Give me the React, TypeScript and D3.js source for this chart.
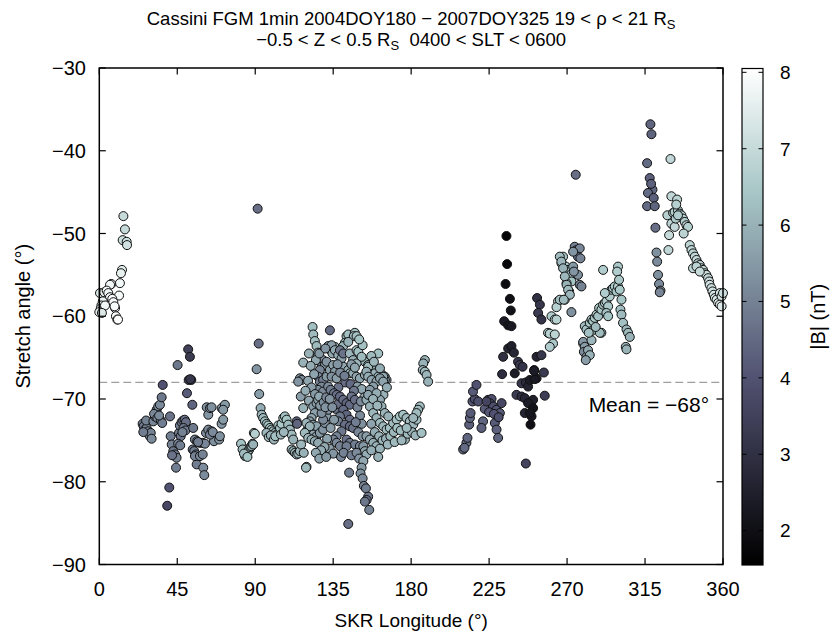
import React from 'react';
import * as d3 from 'd3';

type P = [number, number, number]; // [SKR longitude, stretch angle, |B|]

const segA: P[] = [
  [13.9,-47.9,7.0],[14.8,-49.5,7.0],[13.5,-50.8,7.1],[15.8,-51.0,7.1],[16.0,-51.4,7.2],[13.1,-54.4,7.5],[12.5,-54.8,7.6],
  [11.9,-56.0,7.8],[6.9,-56.1,7.9],[6.2,-56.2,7.8],[11.4,-57.5,7.9],[0.4,-57.2,7.3],[2.9,-57.1,7.6],[4.3,-56.9,7.9],
  [5.2,-57.2,7.8],[6.2,-57.7,7.9],[7.5,-57.9,8.0],[8.1,-58.3,7.9],[2.0,-58.2,7.7],[1.2,-58.7,7.5],[0.8,-59.1,7.4],
  [3.3,-58.7,7.8],[9.1,-59.0,7.9],[9.6,-60.0,8.0],[10.4,-60.4,7.9],[10.8,-60.4,8.0],[8.8,-58.8,7.9],[0.0,-59.5,7.6],[1.5,-59.6,7.4],
];

const segB: P[] = [
  [25.0,-73.0,4.9],[25.6,-73.3,4.8],[26.4,-73.7,4.9],[27.3,-73.5,5.0],[28.3,-73.9,5.0],[29.2,-74.5,5.1],[29.7,-74.1,5.0],
  [30.2,-74.8,5.2],[25.4,-74.0,4.9],[27.0,-72.6,5.0],[31.2,-72.7,5.1],[32.1,-72.1,5.2],[33.1,-71.3,5.2],[34.0,-70.9,5.3],
  [35.0,-70.7,5.2],[31.6,-71.8,5.1],[33.5,-72.3,5.0],[35.5,-72.6,5.1],[36.3,-72.9,4.9],[34.5,-72.0,5.2],[36.0,-69.8,4.8],
  [36.6,-68.3,4.0],[40.8,-72.1,4.7],[41.2,-74.5,4.9],[41.8,-75.5,5.0],[42.7,-76.3,4.8],[43.7,-76.7,4.9],[44.6,-77.1,5.0],
  [44.3,-78.3,4.9],[42.0,-76.8,4.7],[40.4,-80.7,4.0],[39.2,-82.9,3.7],[45.2,-65.9,4.8],[46.0,-74.1,4.9],[46.5,-73.2,5.0],
  [47.5,-72.8,4.8],[48.4,-72.6,4.9],[49.3,-72.5,4.7],[50.0,-72.8,4.6],[48.6,-73.5,4.8],[47.0,-74.5,4.7],[49.7,-73.8,4.9],
  [45.5,-75.4,5.0],[46.7,-75.6,4.9],[48.0,-74.0,5.0],[51.3,-64.0,3.5],[52.3,-64.9,3.3],[51.6,-67.7,3.5],[53.1,-67.7,3.6],
  [52.5,-67.6,3.2],[50.6,-69.3,4.2],[53.7,-70.7,4.4],[54.2,-73.5,4.8],[53.9,-76.1,4.8],[54.8,-76.3,4.9],[55.8,-76.7,4.9],
  [56.2,-77.9,4.9],[55.2,-76.9,5.0],[55.2,-74.9,5.0],[56.5,-75.1,5.0],[58.1,-75.3,5.1],[59.7,-75.3,5.0],[61.0,-75.4,5.1],
  [58.1,-76.9,5.1],[59.7,-76.7,5.0],[60.0,-78.3,5.2],[60.6,-79.2,5.2],[57.0,-75.2,4.9],[62.0,-71.0,5.3],[62.9,-71.9,5.4],
  [63.9,-71.1,5.3],[64.8,-71.0,5.3],[61.6,-74.1,5.2],[62.9,-73.7,5.1],[64.8,-73.9,5.2],[66.2,-75.1,5.3],[63.9,-74.3,5.1],
  [65.5,-74.0,5.2],[69.2,-74.9,5.4],[69.6,-74.5,5.3],[70.6,-73.0,5.4],[71.5,-72.5,5.5],[70.6,-71.1,5.4],[72.5,-70.7,5.5],[71.5,-71.3,5.5],
];

const segC: P[] = [
  [81.8,-75.4,6.3],[82.7,-76.1,6.2],[84.1,-76.9,6.3],[85.0,-76.5,6.2],[86.0,-76.3,6.3],[86.5,-76.1,6.2],[87.3,-75.8,6.3],
  [87.9,-75.7,6.1],[88.5,-75.4,6.2],[88.8,-75.5,6.0],[83.5,-76.6,6.2],[85.5,-77.0,6.4],[89.2,-74.1,6.8],[89.8,-74.2,6.7],
  [92.0,-63.3,4.6],[91.4,-47.0,4.6],[90.8,-66.4,5.4],[92.3,-69.4,5.6],[93.1,-71.1,5.9],[93.7,-71.9,6.1],[94.6,-72.3,6.2],
  [95.6,-72.7,6.3],[96.6,-73.0,6.3],[97.5,-73.2,6.4],[98.5,-73.5,6.3],[99.5,-73.7,6.4],[100.4,-73.9,6.3],[101.4,-74.1,6.2],
  [102.3,-74.3,6.3],[96.5,-74.1,6.1],[97.8,-74.6,6.2],[99.0,-74.4,6.0],[100.8,-74.9,6.1],[101.6,-74.5,6.3],[103.3,-73.2,6.4],
  [104.3,-73.5,6.3],[105.2,-73.0,6.5],[106.2,-72.3,6.4],[107.1,-72.1,6.3],[108.1,-72.5,6.4],[109.0,-73.1,6.2],[110.0,-73.7,6.1],
  [111.0,-74.3,6.2],[111.9,-74.9,6.0],[104.8,-74.3,6.2],[106.5,-74.0,6.1],[111.0,-76.1,6.1],[112.0,-76.3,6.2],[112.9,-76.5,6.0],
  [113.9,-76.7,6.1],[114.8,-76.6,6.0],[115.8,-76.3,6.1],[113.9,-72.7,4.3],[114.2,-73.0,4.4],
];

const segDUpper: P[] = [
  [123.1,-61.3,6.3],[123.5,-62.2,6.2],[124.4,-63.0,6.3],[125.4,-63.6,6.2],[126.3,-64.4,6.1],[125.9,-64.9,6.0],[133.1,-61.7,4.5],
  [132.1,-63.6,5.6],[133.5,-64.1,5.7],[136.0,-63.7,5.9],[134.6,-64.5,5.8],[134.1,-63.5,5.6],[136.0,-64.1,5.8],[137.9,-64.7,5.9],
  [139.8,-65.1,5.7],[142.7,-62.4,6.2],[141.8,-63.2,6.1],[140.8,-63.6,6.0],[143.7,-62.2,6.3],[147.5,-62.0,6.3],[146.9,-62.4,6.2],
  [148.5,-62.4,6.3],[143.7,-63.1,6.0],[138.9,-64.1,4.8],[140.8,-64.5,4.7],[144.6,-64.5,6.1],[148.5,-64.1,6.2],[150.4,-64.9,6.3],
  [152.3,-65.3,6.2],[153.3,-65.5,6.0],[155.2,-65.9,6.1],[157.2,-66.3,6.0],[159.1,-66.5,5.9],[161.0,-66.7,6.0],[162.9,-67.0,5.8],
  [164.8,-67.3,5.9],[165.8,-67.7,5.7],[146.5,-65.3,6.0],[148.5,-65.7,6.1],[149.5,-64.3,6.3],[151.4,-64.9,6.2],[155.2,-66.1,6.2],
  [159.1,-66.9,6.0],[161.0,-67.3,5.8],[162.9,-67.5,5.9],[164.8,-67.7,5.6],[161.0,-64.5,6.3],[162.0,-66.3,5.9],[163.9,-67.3,5.8],
  [117.7,-65.6,6.0],[115.8,-67.5,5.4],[116.8,-67.7,5.3],[114.8,-67.9,5.4],[116.3,-69.7,5.6],[117.7,-71.1,6.0],
  [129.2,-65.3,5.2],[128.3,-66.1,5.0],[130.2,-65.9,5.3],[131.2,-65.5,5.4],[127.3,-66.5,5.1],[126.3,-67.3,5.2],[127.3,-67.9,5.0],
  [129.2,-67.7,4.9],[128.3,-68.5,5.1],[126.3,-68.9,5.3],[129.2,-69.1,5.2],[131.2,-67.3,5.5],[133.1,-66.5,5.6],[135.0,-65.9,5.7],
  [136.0,-66.7,5.5],[134.1,-67.3,5.3],[137.0,-67.5,5.6],[132.1,-68.5,5.2],[140.8,-66.1,5.8],[143.7,-66.5,5.9],[144.6,-66.9,6.0],
  [146.5,-66.9,5.9],[148.5,-67.3,5.8],[150.4,-67.5,5.7],[153.3,-67.1,5.8],[154.2,-66.7,5.9],[155.2,-67.3,5.9],[157.2,-67.7,5.7],
  [160.0,-67.9,5.8],[162.0,-67.5,5.6],[163.9,-67.9,5.7],[142.0,-68.0,4.6],[145.0,-68.2,4.5],[138.0,-68.6,4.7],
  [125.0,-65.3,5.8],[127.0,-64.5,5.5],[130.5,-63.9,5.4],[152.0,-63.5,6.3],[150.0,-62.8,6.4],[157.0,-64.8,6.2],[158.5,-65.5,6.1],
  [121.0,-64.5,6.0],[122.0,-66.0,5.9],[124.0,-67.0,5.7],[120.5,-67.8,5.8],[122.5,-68.6,5.6],[124.5,-69.4,5.5],[119.0,-69.0,5.9],
  [121.0,-70.2,5.8],[139.0,-66.8,5.2],[141.5,-67.2,4.9],[137.5,-65.8,5.4],[145.5,-65.8,5.6],[147.5,-66.2,5.8],
  [149.0,-68.5,5.6],[151.5,-68.8,5.8],[153.0,-69.8,5.9],[147.0,-69.0,4.8],[164.0,-69.5,6.0],[166.0,-68.6,5.9],
  [187.9,-65.3,6.1],[187.0,-65.7,6.0],[186.7,-66.5,6.1],[187.9,-66.7,6.2],[188.9,-67.1,6.1],[189.8,-67.9,6.0],
];

const segDLower: P[] = [
  [123.5,-70.9,5.6],[124.4,-71.7,5.7],[122.5,-72.3,5.8],[121.5,-72.7,5.6],[123.5,-73.1,5.5],[125.4,-73.3,5.7],[120.6,-73.5,5.9],
  [119.6,-73.9,6.0],[121.5,-74.1,5.8],[123.5,-74.3,5.7],[125.4,-74.5,5.6],[127.3,-74.1,5.5],[129.2,-73.7,5.4],[130.2,-72.9,5.3],
  [131.2,-72.1,5.5],[132.1,-71.3,5.4],[129.2,-72.5,5.2],[128.3,-71.7,5.3],[125.4,-70.5,5.6],[126.3,-70.1,5.7],[126.9,-69.7,5.8],
  [119.6,-72.9,6.1],[121.5,-73.3,6.0],[118.6,-74.1,6.2],[120.6,-74.7,6.1],[122.5,-74.9,6.0],[124.4,-75.1,5.9],[126.3,-75.3,5.8],
  [119.6,-78.2,6.0],[127.5,-70.8,5.5],[129.5,-70.4,5.3],[131.0,-69.8,5.1],[133.5,-68.9,4.9],[135.5,-69.3,4.8],[130.5,-71.0,5.4],
  [136.5,-71.2,4.7],[138.0,-70.6,4.6],[137.0,-69.5,4.6],[138.9,-69.7,4.5],[140.8,-70.1,4.6],[142.7,-70.5,4.4],[144.6,-70.7,4.5],
  [145.6,-69.7,4.7],[147.5,-70.1,4.6],[140.8,-71.3,4.5],[142.7,-71.9,4.4],[144.6,-72.5,4.6],[138.9,-72.1,4.8],[137.9,-72.7,4.9],
  [141.8,-73.1,4.6],[144.6,-73.3,4.5],[146.5,-73.5,4.7],[139.8,-73.9,4.8],[137.0,-74.5,5.0],[135.0,-74.9,5.1],[142.7,-74.9,4.7],
  [144.6,-75.3,4.8],[147.5,-75.5,4.9],[137.0,-75.3,5.2],[138.9,-75.7,5.0],[142.7,-75.7,4.9],[150.4,-75.7,5.1],[133.0,-70.0,5.4],
  [134.5,-71.0,5.3],[135.5,-72.5,5.5],[133.5,-73.5,5.6],[131.5,-74.8,5.7],[133.0,-76.0,5.6],[135.0,-76.6,5.4],[130.0,-75.8,5.8],
  [128.0,-76.2,5.9],[149.0,-71.0,5.0],[150.5,-72.0,5.2],[151.5,-73.0,5.3],[149.5,-74.0,5.1],[148.0,-72.8,4.9],[152.0,-74.5,5.4],
  [151.0,-70.3,5.2],[154.2,-70.1,5.9],[156.2,-70.9,6.0],[158.1,-71.7,6.1],[160.0,-72.3,6.0],[162.0,-72.9,6.2],[163.9,-73.3,6.1],
  [165.8,-73.7,6.2],[167.7,-73.5,6.3],[169.6,-72.9,6.2],[171.6,-72.5,6.3],[173.5,-72.1,6.4],[175.4,-71.9,6.3],[177.3,-72.3,6.2],
  [179.3,-72.7,6.3],[181.2,-73.1,6.1],[183.1,-72.5,6.2],[185.0,-70.9,6.3],[184.0,-71.3,6.2],[162.0,-70.1,5.8],[158.1,-68.5,5.6],
  [156.2,-68.9,5.5],[155.2,-69.5,5.7],[160.0,-69.3,5.9],[162.9,-70.9,6.0],[164.8,-71.7,6.1],[166.8,-72.1,6.0],[154.2,-74.5,5.6],
  [156.2,-74.9,5.8],[158.1,-75.3,5.9],[160.0,-75.7,6.0],[152.4,-75.7,5.5],[153.3,-76.3,5.7],[154.2,-76.7,5.9],[157.0,-73.0,5.7],
  [159.0,-74.0,5.9],[161.5,-74.5,6.0],[163.5,-75.0,6.1],[165.5,-74.8,6.0],[168.0,-74.5,6.2],[170.0,-74.0,6.1],[172.0,-73.5,6.3],
  [174.0,-73.8,6.2],[176.4,-74.9,6.1],[178.0,-74.2,6.2],[180.5,-74.0,6.0],[182.5,-74.4,6.1],[183.1,-71.7,6.2],[181.2,-72.3,6.1],
  [177.4,-73.5,6.2],[186.0,-74.1,6.3],[158.0,-70.0,6.0],[160.5,-70.8,6.1],
  [116.5,-75.5,6.1],[118.0,-76.5,6.0],[125.0,-76.5,5.8],[127.0,-77.2,5.7],[131.0,-77.0,5.5],[139.5,-77.0,5.1],[141.0,-76.5,5.0],
  [145.5,-76.8,4.9],[148.5,-76.5,5.2],[150.0,-77.2,5.4],[157.0,-76.2,5.9],[162.0,-76.0,6.0],[166.5,-75.5,6.1],[170.5,-75.2,6.2],
  [174.5,-75.0,6.1],[161.0,-77.0,6.0],
  [152.4,-77.5,5.8],[151.4,-78.3,5.5],[150.8,-79.0,5.3],[152.0,-79.6,5.2],[152.7,-80.5,5.0],
  [153.9,-80.8,4.9],[155.2,-81.8,4.8],[154.3,-82.2,4.7],[153.3,-82.4,4.8],[155.8,-83.4,5.0],[144.2,-78.9,4.9],[143.7,-85.1,4.6],
  [119.3,-78.3,6.2],
];

const segE: P[] = [
  [210.0,-76.1,4.6],[211.9,-75.3,4.5],[212.5,-74.7,4.4],[213.5,-73.1,4.3],[213.9,-72.3,4.4],[214.3,-71.7,4.2],[215.4,-70.3,4.1],
  [216.7,-70.0,4.0],[215.7,-69.1,4.2],[217.7,-68.3,4.0],[218.7,-70.3,3.9],[210.8,-75.9,4.5],[224.4,-70.1,3.8],[226.4,-70.0,3.9],
  [225.4,-70.5,4.0],[227.3,-70.9,3.9],[229.3,-71.3,4.1],[231.2,-71.7,4.2],[232.2,-70.5,3.7],[222.5,-71.2,4.2],[221.5,-72.7,4.4],
  [220.6,-73.5,4.3],[228.3,-72.9,4.2],[229.3,-73.7,4.3],[230.2,-74.7,4.4],[223.5,-70.3,3.6],[225.0,-71.6,4.1],[227.8,-71.8,4.0],
  [230.5,-72.2,3.9],[235.0,-50.3,1.7],[235.4,-53.7,1.8],[234.5,-56.1,1.9],[237.0,-57.9,2.0],[237.5,-59.3,2.1],[233.7,-60.6,2.4],
  [236.0,-61.1,2.2],[237.9,-61.2,2.3],[236.0,-63.9,2.6],[237.9,-63.6,2.5],[239.3,-64.4,2.7],[233.1,-64.9,3.0],[241.7,-65.5,3.2],
  [242.7,-65.9,3.4],[244.3,-66.1,3.1],[232.5,-67.0,2.9],[239.8,-66.9,2.4],[252.7,-57.8,3.0],[254.3,-58.6,3.2],[253.3,-59.6,3.3],
  [255.2,-60.4,3.1],[252.4,-64.9,2.6],[255.2,-64.7,3.2],[251.0,-66.5,2.2],[252.4,-67.5,2.5],[256.6,-66.8,3.3],[243.7,-68.1,3.2],
  [246.2,-68.0,2.8],[247.5,-68.5,2.6],[248.5,-67.7,2.4],[251.4,-67.6,2.3],[240.8,-69.5,3.3],[243.7,-69.7,2.9],[245.6,-69.9,2.7],
  [248.5,-70.5,2.3],[250.4,-70.1,2.5],[257.1,-69.6,3.4],[245.6,-71.7,2.6],[249.5,-72.1,2.3],[247.5,-70.5,2.4],[250.4,-71.1,2.1],
  [248.5,-71.7,2.2],[248.9,-73.1,2.0],[246.2,-77.8,3.6],[251.0,-66.6,2.4],
];

const segF: P[] = [
  [267.7,-52.8,6.4],[266.8,-53.6,6.3],[269.3,-54.0,6.5],[270.6,-54.4,6.3],[272.0,-55.0,6.2],[272.5,-55.8,6.4],[269.7,-56.0,6.5],
  [271.2,-57.0,6.6],[268.7,-58.0,6.7],[264.8,-58.2,6.8],[263.9,-58.9,6.7],[261.0,-60.0,6.6],[262.9,-60.4,6.8],[263.9,-60.4,6.7],
  [259.0,-62.0,6.6],[260.0,-62.1,6.7],[262.9,-62.2,6.8],[261.9,-63.3,6.5],[260.0,-63.7,6.6],[265.8,-52.8,6.2],[266.7,-53.4,6.1],
  [267.7,-54.2,6.0],[268.7,-55.2,6.1],[269.7,-56.2,6.0],[270.6,-56.8,6.2],[271.6,-57.4,6.1],[265.8,-58.0,6.3],[268.1,-58.0,6.2],
  [275.0,-42.9,4.6],[274.4,-51.6,5.0],[275.4,-52.0,4.8],[277.3,-51.8,5.1],[276.3,-52.8,4.7],[277.7,-53.0,5.0],[273.5,-52.2,5.4],
  [276.3,-55.0,5.3],[277.3,-56.2,5.1],[278.3,-56.4,5.0],[273.5,-54.0,5.5],[273.9,-54.6,5.4],[272.5,-59.5,5.3],
  [279.3,-63.3,6.3],[280.2,-61.2,6.2],[281.2,-61.6,6.3],[283.1,-60.8,6.4],[284.1,-60.4,6.3],[285.0,-60.6,6.4],[286.0,-60.2,6.5],
  [287.0,-59.8,6.4],[287.9,-60.0,6.3],[288.5,-59.0,6.5],[289.8,-59.2,6.4],[290.8,-58.6,6.5],[291.8,-58.4,6.4],[292.7,-58.2,6.6],
  [293.7,-58.8,6.5],[294.6,-57.6,6.6],[295.6,-56.8,6.5],[296.5,-56.6,6.6],[297.5,-56.4,6.5],[298.5,-57.0,6.4],[299.4,-56.4,6.6],
  [300.4,-56.8,6.5],[291.8,-57.2,6.6],[292.7,-59.6,6.3],[293.7,-60.0,6.4],[289.8,-62.0,6.2],[290.8,-54.4,6.6],[299.4,-54.0,6.5],
  [298.9,-54.6,6.6],[300.0,-55.6,6.5],[301.4,-58.0,6.4],[300.8,-59.2,6.3],[301.4,-59.8,6.2],[302.3,-60.8,6.3],[304.3,-61.6,6.1],
  [305.2,-62.0,6.2],[306.2,-62.5,6.0],[303.9,-63.7,6.1],[304.3,-64.0,6.0],[279.3,-63.1,5.4],[280.2,-63.7,5.6],[279.7,-64.3,5.2],
  [281.2,-64.9,5.5],[282.1,-64.1,5.8],[283.1,-64.7,6.0],[280.8,-65.3,5.6],[284.1,-62.9,6.1],[284.1,-61.8,6.3],[288.9,-62.0,6.2],
  [282.5,-62.0,6.3],[286.5,-61.3,6.2],
];

const segG: P[] = [
  [318.1,-36.8,4.4],[318.7,-38.0,4.4],[316.2,-41.5,4.5],[317.7,-43.3,4.3],[319.3,-44.7,4.4],[316.7,-45.1,4.5],[320.0,-45.7,4.3],
  [316.2,-46.7,4.5],[320.6,-46.7,4.4],[318.5,-44.0,4.3],[321.0,-49.3,4.6],[321.6,-52.3,5.3],[322.0,-53.4,5.2],[322.5,-55.0,5.3],
  [323.1,-56.1,5.2],[323.9,-56.9,5.3],[323.5,-57.1,5.1],[329.7,-41.0,6.9],[330.2,-45.5,6.9],[333.5,-45.9,6.8],[327.9,-47.8,6.7],
  [331.2,-47.5,6.6],[332.1,-47.4,6.7],[334.0,-47.2,6.6],[335.0,-47.6,6.7],[336.0,-47.8,6.6],[336.9,-48.2,6.8],[337.9,-48.6,6.7],
  [338.9,-49.0,6.8],[339.8,-49.2,6.7],[331.2,-49.0,6.9],[330.2,-48.8,6.8],[332.1,-49.2,6.9],[328.9,-50.2,7.0],[337.3,-50.0,6.8],
  [328.5,-52.0,6.9],[332.7,-48.2,6.5],[334.0,-47.8,6.6],[333.0,-46.5,6.7],[340.8,-51.4,6.8],[341.8,-52.0,6.9],[342.7,-52.4,6.8],
  [343.7,-52.8,6.9],[344.7,-53.2,7.0],[345.6,-53.6,6.9],[346.6,-53.8,6.8],[347.5,-54.2,7.0],[348.5,-54.4,6.9],[349.5,-54.8,7.0],
  [350.4,-55.0,7.1],[351.4,-55.4,7.0],[352.0,-55.8,7.1],[352.3,-56.2,7.2],[353.3,-56.6,7.1],[353.9,-57.0,7.2],[354.7,-57.4,7.3],
  [355.3,-57.8,7.2],[356.3,-58.0,7.3],[357.2,-58.4,7.4],[358.2,-57.2,7.2],[359.2,-57.6,7.3],[360.0,-57.2,7.1],[358.2,-58.6,7.5],
  [359.2,-58.8,7.4],[342.7,-54.2,6.9],[344.7,-54.0,6.8],[346.6,-54.6,7.0],
];

const xTicks = [0, 45, 90, 135, 180, 225, 270, 315, 360];
const yTicks = [-90, -80, -70, -60, -50, -40, -30];
const cTicks = [2, 3, 4, 5, 6, 7, 8];
const meanAngle = -68;
const bRange = [1.55, 8.05];
const boneStops = [0, 0.375, 0.75, 1];
const boneColors = ['#000000', '#515171', '#a7c6c6', '#ffffff'];

const FONT = '"Liberation Sans", Arial, Helvetica, sans-serif';

export default function App() {
  const W = 831, H = 638;
  const L = 99.3, R = 723, T = 68, B = 564.5;
  const x = d3.scaleLinear().domain([0, 360]).range([L, R]);
  const y = d3.scaleLinear().domain([-90, -30]).range([B, T]);
  const cbY = d3.scaleLinear().domain(bRange).range([565, 68.5]);
  const bone = d3.scaleLinear<string>().domain(boneStops).range(boneColors).interpolate(d3.interpolateRgb).clamp(true);
  const color = (b: number) => bone((b - bRange[0]) / (bRange[1] - bRange[0]));
  const all: P[] = [...segA, ...segB, ...segC, ...segDUpper, ...segDLower, ...segE, ...segF, ...segG];
  const cbL = 742, cbR = 763;
  const neg = (v: number) => (v < 0 ? '\u2212' + Math.abs(v) : String(v));

  return (
    <svg width={W} height={H} style={{ position: 'absolute', left: 0, top: 0, background: '#fff' }} fontFamily={FONT}>
      <defs>
        <linearGradient id="bonegrad" x1="0" y1="1" x2="0" y2="0">
          {boneStops.map((s, i) => (
            <stop key={i} offset={s} stopColor={boneColors[i]} />
          ))}
        </linearGradient>
        <clipPath id="plotclip">
          <rect x={L - 6} y={T - 6} width={R - L + 12} height={B - T + 12} />
        </clipPath>
      </defs>

      {/* title */}
      <text x={(L + R) / 2} y={25} textAnchor="middle" fontSize={18.5} fill="#000">
        Cassini FGM 1min 2004DOY180 {'\u2212'} 2007DOY325 19 {'<'} ρ {'<'} 21 R
        <tspan fontSize={13} dy={4}>S</tspan>
      </text>
      <text x={(L + R) / 2} y={46} textAnchor="middle" fontSize={18.5} fill="#000">
        {'\u2212'}0.5 {'<'} Z {'<'} 0.5 R<tspan fontSize={13} dy={4}>S</tspan>
        <tspan dy={-4}>{'\u00a0\u00a0'}0400 {'<'} SLT {'<'} 0600</tspan>
      </text>

      {/* mean line */}
      <line x1={L} x2={R} y1={y(meanAngle)} y2={y(meanAngle)} stroke="#a0a0a0" strokeWidth={1.2} strokeDasharray="8,4" />
      <text x={x(352)} y={y(meanAngle) + 30} textAnchor="end" fontSize={21} fill="#000">
        Mean = {neg(meanAngle)}°
      </text>

      {/* points */}
      <g clipPath="url(#plotclip)">
        {all.map((p, i) => (
          <circle key={i} cx={x(p[0])} cy={y(p[1])} r={4.5} fill={color(p[2])} stroke="#111" strokeWidth={1} />
        ))}
      </g>

      {/* axes box */}
      <rect x={L} y={T} width={R - L} height={B - T} fill="none" stroke="#000" strokeWidth={1.5} />
      {xTicks.map((t) => (
        <g key={'x' + t}>
          <line x1={x(t)} x2={x(t)} y1={B} y2={B - 6.5} stroke="#000" strokeWidth={1.2} />
          <line x1={x(t)} x2={x(t)} y1={T} y2={T + 6.5} stroke="#000" strokeWidth={1.2} />
          <text x={x(t)} y={596} textAnchor="middle" fontSize={20} fill="#000">{t}</text>
        </g>
      ))}
      {yTicks.map((t) => (
        <g key={'y' + t}>
          <line x1={L} x2={L + 6.5} y1={y(t)} y2={y(t)} stroke="#000" strokeWidth={1.2} />
          <line x1={R} x2={R - 6.5} y1={y(t)} y2={y(t)} stroke="#000" strokeWidth={1.2} />
          <text x={86} y={y(t)} dy="0.36em" textAnchor="end" fontSize={20} fill="#000">{neg(t)}</text>
        </g>
      ))}

      {/* axis labels */}
      <text x={(L + R) / 2} y={627} textAnchor="middle" fontSize={19} fill="#000">SKR Longitude (°)</text>
      <text transform={`translate(30, ${(T + B) / 2}) rotate(-90)`} textAnchor="middle" fontSize={20} fill="#000">
        Stretch angle (°)
      </text>

      {/* colorbar */}
      <rect x={cbL} y={cbY(bRange[1])} width={cbR - cbL} height={cbY(bRange[0]) - cbY(bRange[1])} fill="url(#bonegrad)" stroke="#000" strokeWidth={1.2} />
      {cTicks.map((t) => (
        <g key={'c' + t}>
          <line x1={cbL} x2={cbL + 4.5} y1={cbY(t)} y2={cbY(t)} stroke="#000" strokeWidth={1} />
          <line x1={cbR} x2={cbR - 4.5} y1={cbY(t)} y2={cbY(t)} stroke="#000" strokeWidth={1} />
          <text x={780} y={cbY(t)} dy="0.36em" textAnchor="start" fontSize={19} fill="#000">{t}</text>
        </g>
      ))}
      <text transform={`translate(825, ${(cbY(bRange[0]) + cbY(bRange[1])) / 2}) rotate(-90)`} textAnchor="middle" fontSize={20} fill="#000">
        |B| (nT)
      </text>
    </svg>
  );
}
